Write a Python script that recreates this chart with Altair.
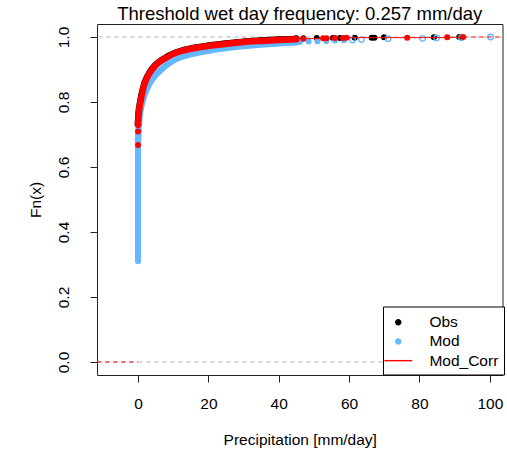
import altair as alt
import pandas as pd

# ---------------- data ----------------
title_text = "Threshold wet day frequency: 0.257 mm/day"
series_names = ["Obs", "Mod", "Mod_Corr"]
series_colors = ["#000000", "#63B8FF", "#FF0000"]
# legend glyphs: dot, dot, short line (all with the same extent so the legend rows align)
legend_shapes = [
    "M-4.3,0M4.3,0M1,0A1,1,0,1,1,-1,0A1,1,0,1,1,1,0Z",
    "M-4.3,0M4.3,0M1,0A1,1,0,1,1,-1,0A1,1,0,1,1,1,0Z",
    "M-4.3,-0.22H4.3V0.22H-4.3Z",
]

x_domain = [-11.66, 103.6]
y_domain = [-0.04, 1.04]
x_ticks = [0, 20, 40, 60, 80, 100]
y_ticks = [0.0, 0.2, 0.4, 0.6, 0.8, 1.0]

# Obs ECDF (dense part, mostly hidden behind Mod_Corr)
obs_curve_x = [-0.05, 0.15, 0.55, 1.45, 2.85, 5.25, 8.55, 9.95, 13.35, 18.95, 24.15, 29.45, 34.95, 39.95, 44.95]
obs_curve_y = [0.732, 0.766, 0.796, 0.844, 0.883, 0.917, 0.941, 0.949, 0.961, 0.972, 0.979, 0.985, 0.989, 0.992, 0.994]
obs_tail_x = [45.0, 47.0, 50.8, 55.4, 57.4, 61.6, 66.4, 67.2, 69.9, 84.1, 91.3]
obs_tail_y = [0.996, 0.996, 0.997, 0.997, 0.997, 0.998, 0.998, 0.998, 0.999, 0.999, 1.0]

# Mod ECDF
mod_stem_x = [0.0]
mod_stem_y = [0.31]
mod_stem_y2 = [0.68]
mod_curve_x = [0.0, 0.25, 0.8, 1.7, 2.9, 4.5, 6.5, 8.5, 10.5, 13.5, 17.0, 21.0, 25.0, 30.0, 35.0, 40.0, 45.0]
mod_curve_y = [0.68, 0.735, 0.78, 0.818, 0.85, 0.877, 0.899, 0.917, 0.931, 0.943, 0.952, 0.960, 0.966, 0.972, 0.977, 0.981, 0.984]
mod_tail_x = [46.0, 48.5, 51.0, 53.5, 56.0, 58.5]
mod_tail_y = [0.985, 0.986, 0.987, 0.988, 0.989, 0.990]
mod_open_x = [61.0, 63.5, 71.1, 80.9, 84.9, 91.9, 100.2]
mod_open_y = [0.991, 0.992, 0.995, 0.996, 0.997, 0.998, 1.0]

# Mod_Corr ECDF
corr_start_x = [0.0, 0.0]
corr_start_y = [0.668, 0.709]
corr_curve_x = [0.0, 0.2, 0.6, 1.5, 2.9, 5.3, 8.6, 10.0, 13.4, 19.0, 24.2, 29.5, 35.0, 40.0, 45.0]
corr_curve_y = [0.73, 0.765, 0.795, 0.843, 0.882, 0.916, 0.940, 0.948, 0.960, 0.971, 0.978, 0.984, 0.988, 0.991, 0.993]
corr_tail_x = [47.0, 52.6, 53.6, 56.0, 58.3, 59.3, 76.5, 87.9, 92.4]
corr_tail_y = [0.995, 0.996, 0.996, 0.997, 0.997, 0.998, 0.998, 0.999, 1.0]
corr_dash_x = [x_domain[0], 92.4]
corr_dash_x2 = [0.0, x_domain[1]]
corr_dash_y = [0.0, 1.0]

ref_lines_y = [0.0, 1.0]

FONT = "Liberation Sans"


def frame(x, y):
    return pd.DataFrame({"x": x, "y": y})


X = alt.X("x:Q", scale=alt.Scale(domain=x_domain, nice=False, zero=False),
          axis=alt.Axis(values=x_ticks, title="Precipitation [mm/day]", grid=False, domain=False,
                        labelBaseline="alphabetic", labelAlign="center", labelPadding=26.8,
                        titleY=69, titleBaseline="alphabetic"))
Y = alt.Y("y:Q", scale=alt.Scale(domain=y_domain, nice=False, zero=False),
          axis=alt.Axis(values=y_ticks, format=".1f", title="Fn(x)", grid=False, domain=False,
                        labelAngle=270, labelAlign="center", labelBaseline="alphabetic",
                        labelPadding=21.4, titleAngle=270, titleX=-56.4, titleY=175.5,
                        titleAlign="center", titleBaseline="alphabetic"))

DOT = 36
LW = 6.5

ref = alt.Chart(pd.DataFrame({"y": ref_lines_y})).mark_rule(
    color="#B3B3B3", strokeDash=[4, 4], strokeWidth=1).encode(y=Y)

obs_line = alt.Chart(frame(obs_curve_x, obs_curve_y)).mark_line(
    color="#000000", strokeWidth=LW, strokeCap="round", interpolate="monotone").encode(x=X, y=Y)
obs_pts = alt.Chart(frame(obs_tail_x, obs_tail_y)).mark_circle(
    color="#000000", size=DOT, opacity=1).encode(x=X, y=Y)

mod_stem = alt.Chart(pd.DataFrame({"x": mod_stem_x, "y": mod_stem_y, "y2": mod_stem_y2})).mark_rule(
    color="#63B8FF", strokeWidth=6, strokeCap="round").encode(x=X, y=Y, y2="y2:Q")
mod_line = alt.Chart(frame(mod_curve_x, mod_curve_y)).mark_line(
    color="#63B8FF", strokeWidth=LW, strokeCap="round", interpolate="monotone").encode(x=X, y=Y)
mod_pts = alt.Chart(frame(mod_tail_x, mod_tail_y)).mark_circle(
    color="#63B8FF", size=DOT, opacity=1).encode(x=X, y=Y)
mod_open = alt.Chart(frame(mod_open_x, mod_open_y)).mark_point(
    color="#63B8FF", size=30, strokeWidth=1.3, filled=False, opacity=1).encode(x=X, y=Y)

corr_line = alt.Chart(frame(corr_curve_x, corr_curve_y)).mark_line(
    color="#FF0000", strokeWidth=LW, strokeCap="round", interpolate="monotone").encode(x=X, y=Y)
corr_start = alt.Chart(frame(corr_start_x, corr_start_y)).mark_circle(
    color="#FF0000", size=DOT, opacity=1).encode(x=X, y=Y)
corr_step = alt.Chart(frame(corr_tail_x, corr_tail_y)).mark_line(
    color="#FF0000", strokeWidth=1, interpolate="step-after").encode(x=X, y=Y)
corr_pts = alt.Chart(frame(corr_tail_x, corr_tail_y)).mark_circle(
    color="#FF0000", size=DOT, opacity=1).encode(x=X, y=Y)
corr_dash = alt.Chart(pd.DataFrame({"x": corr_dash_x, "x2": corr_dash_x2, "y": corr_dash_y})).mark_rule(
    color="#FF0000", strokeDash=[4, 4], strokeWidth=1).encode(x=X, x2="x2:Q", y=Y)

legend_df = pd.DataFrame({"series": series_names, "x": [obs_tail_x[0], mod_tail_x[0], corr_tail_x[0]],
                          "y": [obs_tail_y[0], mod_tail_y[0], corr_tail_y[0]]})
legend_layer = alt.Chart(legend_df).mark_point(filled=True, opacity=0).encode(
    x=X, y=Y,
    color=alt.Color("series:N", scale=alt.Scale(domain=series_names, range=series_colors),
                    legend=alt.Legend(title=" ", titleFontSize=2, titlePadding=1,
                                      orient="none", legendX=286, legendY=282.5,
                                      fillColor="white", strokeColor="#000000", padding=5,
                                      cornerRadius=0, rowPadding=2.2, labelOffset=23.4,
                                      symbolOffset=2.5,
                                      labelFont=FONT, labelFontSize=15.5, labelColor="#000000",
                                      symbolSize=42, symbolOpacity=1, symbolStrokeWidth=0)),
    shape=alt.Shape("series:N", scale=alt.Scale(domain=series_names, range=legend_shapes), legend=None),
)

chart = alt.layer(ref, obs_line, obs_pts, mod_stem, mod_line, mod_pts, mod_open,
                  corr_line, corr_start, corr_step, corr_pts, corr_dash, legend_layer).properties(
    width=405.5, height=351,
    autosize=alt.AutoSizeParams(type="none"),
    padding={"left": 97, "top": 24, "right": 4.5, "bottom": 75},
    title=alt.TitleParams(title_text, fontSize=18.5, font=FONT, fontWeight="normal", anchor="middle",
                          baseline="alphabetic", offset=4.5, dy=18.5, color="#000000"),
).configure(background="white").configure_view(stroke="#222222", strokeWidth=1).configure_axis(
    domain=False, grid=False, tickColor="#222222", tickSize=7, tickWidth=1,
    labelFont=FONT, labelFontSize=15.5, labelColor="#000000", labelOverlap=False,
    titleFont=FONT, titleFontSize=15.5, titleFontWeight="normal", titleColor="#000000",
)

chart.save("out.html", embed_options={"renderer": "svg", "actions": False})
